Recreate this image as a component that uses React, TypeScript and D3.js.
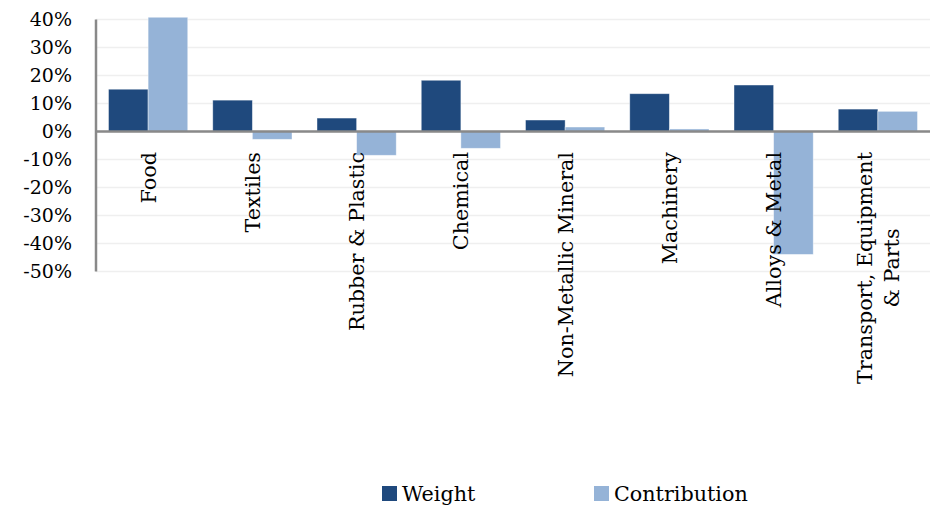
import React, { useEffect, useRef } from "react";
import * as d3 from "d3";

const categories: string[][] = [
  ["Food"],
  ["Textiles"],
  ["Rubber & Plastic"],
  ["Chemical"],
  ["Non-Metallic Mineral"],
  ["Machinery"],
  ["Alloys & Metal"],
  ["Transport, Equipment", "& Parts"],
];
const seriesNames = ["Weight", "Contribution"];
const weight = [15.1, 11.2, 4.8, 18.3, 4.1, 13.5, 16.6, 8.0];
const contribution = [40.8, -2.8, -8.5, -6.0, 1.6, 0.9, -43.9, 7.2];
const yTicks = [40, 30, 20, 10, 0, -10, -20, -30, -40, -50];
const colors = ["#1F497D", "#95B3D7"];

const W = 933;
const H = 507;
const FONT = "'DejaVu Serif', serif";

export default function App() {
  const ref = useRef<SVGSVGElement>(null);

  useEffect(() => {
    const svg = d3.select(ref.current);
    svg.selectAll("*").remove();

    const left = 96;
    const right = 930;
    const y = d3.scaleLinear().domain([-50, 40]).range([271.5, 19.5]);
    const keys = categories.map((c) => c.join(" "));
    const x0 = d3.scaleBand<string>().domain(keys).range([left, right]).paddingInner(0.24).paddingOuter(0.12);
    const x1 = d3.scaleBand<string>().domain(seriesNames).range([0, x0.bandwidth()]);

    // gridlines
    svg
      .append("g")
      .selectAll("line")
      .data(yTicks)
      .join("line")
      .attr("x1", left)
      .attr("x2", right)
      .attr("y1", (d) => y(d))
      .attr("y2", (d) => y(d))
      .attr("stroke", "#EFEFEF")
      .attr("stroke-width", 1.5);

    // tick labels
    svg
      .append("g")
      .selectAll("text")
      .data(yTicks)
      .join("text")
      .attr("x", 72)
      .attr("y", (d) => y(d))
      .attr("dy", "0.36em")
      .attr("text-anchor", "end")
      .attr("font-family", FONT)
      .attr("font-size", 19)
      .attr("fill", "#000")
      .text((d) => `${d}%`);

    // bars
    const series = [weight, contribution];
    const g = svg.append("g");
    keys.forEach((k, i) => {
      series.forEach((vals, s) => {
        const v = vals[i];
        g.append("rect")
          .attr("x", (x0(k) as number) + (x1(seriesNames[s]) as number))
          .attr("width", x1.bandwidth())
          .attr("y", y(Math.max(0, v)))
          .attr("height", Math.abs(y(v) - y(0)))
          .attr("fill", colors[s])
          .attr("stroke", "#ffffff")
          .attr("stroke-opacity", 0.5)
          .attr("stroke-width", 0.8);
      });
    });

    // axes lines
    svg
      .append("line")
      .attr("x1", left)
      .attr("x2", right)
      .attr("y1", y(0))
      .attr("y2", y(0))
      .attr("stroke", "#898989")
      .attr("stroke-width", 2.5);
    svg
      .append("line")
      .attr("x1", left)
      .attr("x2", left)
      .attr("y1", y(40))
      .attr("y2", y(-50))
      .attr("stroke", "#898989")
      .attr("stroke-width", 2.5);

    // category labels
    const labelTop = 152;
    const lineH = 27;
    categories.forEach((lines, i) => {
      const cx = (x0(keys[i]) as number) + x0.bandwidth() / 2;
      const lg = svg.append("g").attr("transform", `translate(${cx},${labelTop}) rotate(-90)`);
      const texts = lines.map((ln, j) =>
        lg
          .append("text")
          .attr("y", (j - (lines.length - 1) / 2) * lineH)
          .attr("dy", "0.36em")
          .attr("font-family", FONT)
          .attr("font-size", 20.7)
          .attr("fill", "#000")
          .text(ln)
      );
      const widths = texts.map((t) => (t.node() as SVGTextElement).getComputedTextLength());
      const maxW = Math.max(...widths);
      texts.forEach((t) => t.attr("text-anchor", "middle").attr("x", -maxW / 2));
    });

    // legend
    const legendItems = [
      { name: seriesNames[0], x: 382 },
      { name: seriesNames[1], x: 594 },
    ];
    legendItems.forEach((it, s) => {
      svg
        .append("rect")
        .attr("x", it.x)
        .attr("y", 486)
        .attr("width", 15)
        .attr("height", 15)
        .attr("fill", colors[s]);
      svg
        .append("text")
        .attr("x", it.x + 20)
        .attr("y", 501)
        .attr("font-family", FONT)
        .attr("font-size", 20.7)
        .attr("fill", "#000")
        .text(it.name);
    });
  }, []);

  return (
    <svg
      ref={ref}
      width={W}
      height={H}
      style={{ position: "absolute", left: 0, top: 0, background: "#fff" }}
    />
  );
}
